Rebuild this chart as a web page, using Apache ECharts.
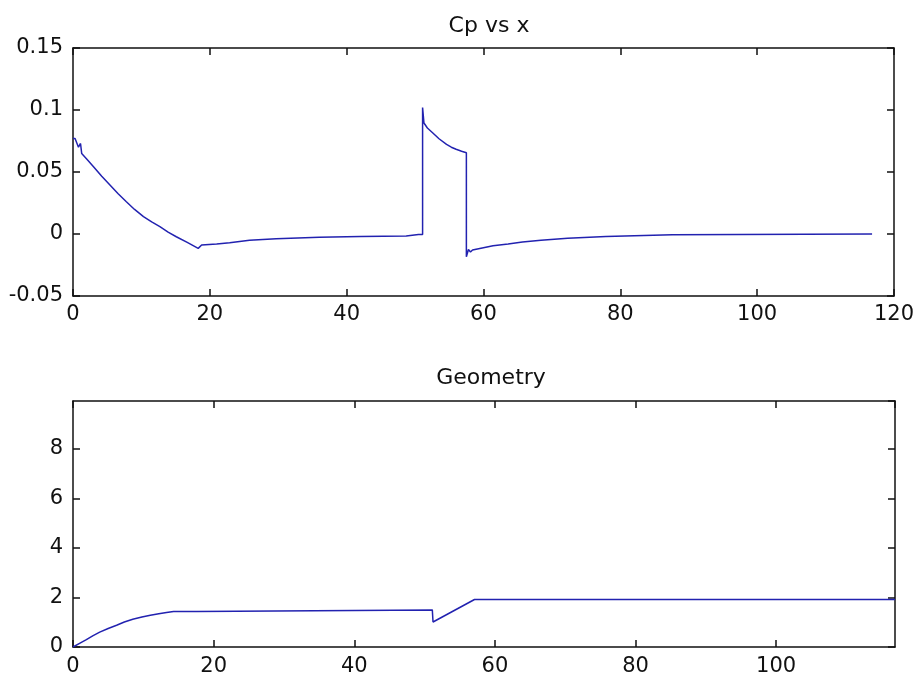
<!DOCTYPE html>
<html>
<head>
<meta charset="utf-8">
<script src="https://cdn.jsdelivr.net/npm/echarts@6/dist/echarts.min.js"></script>
<style>
  html, body { margin: 0; padding: 0; background: #fff; }
  #chart { width: 917px; height: 681px; }
</style>
</head>
<body>
<div id="chart"></div>
<script>
// Pressure coefficient along the surface
const cpX = [0, 0.3, 0.8, 1.1, 1.27, 2.0, 3.0, 4.2, 5.4, 6.6, 7.8, 9.0, 10.3, 11.5, 12.7, 13.9, 15.1, 16.7, 18.3,
             18.8, 21.0, 22.9, 25.8, 29.7, 36.0, 42.0, 48.7, 50.5, 51.1,
             51.1, 51.3, 51.8, 52.6, 53.5, 54.6, 55.3, 56.0, 56.8, 57.5,
             57.5, 57.8, 58.1, 58.4, 61.4, 63.6, 65.7, 68.4, 72.3, 77.9, 87.6, 116.8];
const cpY = [0.077, 0.077, 0.070, 0.073, 0.065, 0.0605, 0.0543, 0.0465, 0.0395, 0.0325, 0.026, 0.0198, 0.014, 0.0097, 0.0059, 0.0015, -0.0022, -0.0068, -0.0116,
             -0.0089, -0.0081, -0.0070, -0.0050, -0.0038, -0.0027, -0.0021, -0.0016, -0.0005, -0.0005,
             0.102, 0.0895, 0.0855, 0.0814, 0.0768, 0.0722, 0.0700, 0.0683, 0.0668, 0.0655,
             -0.0183, -0.0125, -0.0145, -0.0129, -0.0095, -0.0080, -0.0065, -0.0050, -0.0035, -0.0020, -0.0006, -0.0001];

// Body profile
const geoX = [0, 1.0, 1.9, 2.8, 3.8, 5.0, 6.2, 7.3, 8.5, 9.8, 11.0, 12.2, 13.3, 14.3, 17.6, 17.8, 51.1, 51.2, 57.1, 116.9];
const geoY = [0, 0.16, 0.30, 0.45, 0.60, 0.75, 0.88, 1.01, 1.12, 1.21, 1.28, 1.34, 1.39, 1.43, 1.43, 1.50, 1.50, 1.01, 1.92, 1.92];

// Axis ticks
const cpXTicks = { min: 0, max: 120, interval: 20 };
const cpYTicks = { min: -0.05, max: 0.15, interval: 0.05 };
const geoXTicks = { min: 0, max: 116.9, interval: 20 };
const geoYTicks = { min: 0, max: 9.94, interval: 2 };

const FONT = 'DejaVu Sans';
const lineColor = '#2222b0';

function pairs(xs, ys) { return xs.map((x, i) => [x, ys[i]]); }

// the last label is only shown when the axis ends on a tick
function endsOnTick(t) {
  const n = (t.max - t.min) / t.interval;
  return Math.abs(n - Math.round(n)) < 1e-6;
}

function axis(gridIndex, ticks, position, showLabel, margin) {
  return {
    type: 'value',
    gridIndex: gridIndex,
    position: position,
    min: ticks.min,
    max: ticks.max,
    interval: ticks.interval,
    axisLine: { show: true, onZero: false, lineStyle: { color: '#111', width: 1.5 } },
    axisTick: { show: true, inside: true, length: 7, lineStyle: { color: '#111', width: 1.5 } },
    splitLine: { show: false },
    axisLabel: {
      show: showLabel,
      color: '#111',
      fontFamily: FONT,
      fontSize: 21,
      margin: margin,
      showMinLabel: true,
      showMaxLabel: endsOnTick(ticks)
    }
  };
}

const chart = echarts.init(document.getElementById('chart'), null, { renderer: 'canvas' });

chart.setOption({
  animation: false,
  backgroundColor: '#ffffff',
  title: [
    { text: 'Cp vs x', left: 484, top: 10, textAlign: 'center',
      textStyle: { fontFamily: FONT, fontSize: 22, fontWeight: 'normal', color: '#111' } },
    { text: 'Geometry', left: 486, top: 362, textAlign: 'center',
      textStyle: { fontFamily: FONT, fontSize: 22, fontWeight: 'normal', color: '#111' } }
  ],
  grid: [
    { left: 73, top: 48, width: 822, height: 248, containLabel: false },
    { left: 73, top: 401, width: 822, height: 246, containLabel: false }
  ],
  xAxis: [
    axis(0, cpXTicks, 'bottom', true, 8),
    axis(0, cpXTicks, 'top', false, 8),
    axis(1, geoXTicks, 'bottom', true, 9),
    axis(1, geoXTicks, 'top', false, 9)
  ],
  yAxis: [
    axis(0, cpYTicks, 'left', true, 10),
    axis(0, cpYTicks, 'right', false, 10),
    axis(1, geoYTicks, 'left', true, 10),
    axis(1, geoYTicks, 'right', false, 10)
  ],
  series: [
    {
      type: 'line', xAxisIndex: 0, yAxisIndex: 0,
      data: pairs(cpX, cpY),
      showSymbol: false, symbol: 'none',
      lineStyle: { color: lineColor, width: 1.5 }
    },
    {
      type: 'line', xAxisIndex: 2, yAxisIndex: 2,
      data: pairs(geoX, geoY),
      showSymbol: false, symbol: 'none',
      lineStyle: { color: lineColor, width: 1.5 }
    }
  ]
});
</script>
</body>
</html>
